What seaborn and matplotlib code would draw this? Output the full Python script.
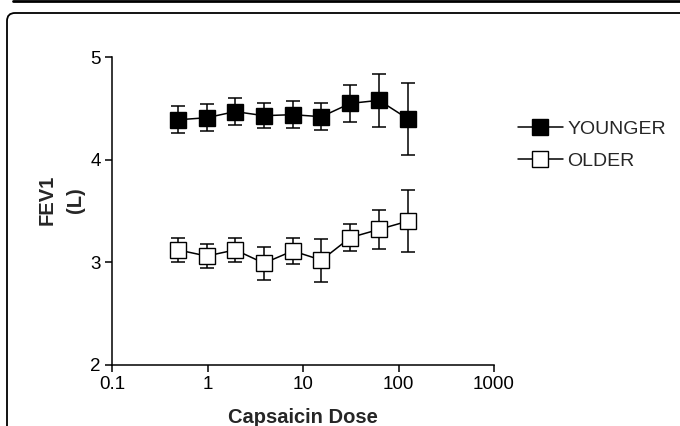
import numpy as np
import pandas as pd
import matplotlib
matplotlib.use("Agg")
import matplotlib.pyplot as plt
import matplotlib.patches as mpatches
from matplotlib.lines import Line2D
import seaborn as sns

# ==========================
# DATA
# ==========================

doses = [0.49, 0.98, 1.95, 3.9, 7.8, 15.6, 31.25, 62.5, 125]

younger_mean = [4.39, 4.41, 4.47, 4.43, 4.44, 4.42, 4.55, 4.58, 4.40]
younger_err = [0.13, 0.13, 0.13, 0.12, 0.13, 0.13, 0.18, 0.26, 0.35]

older_mean = [3.12, 3.06, 3.12, 2.99, 3.11, 3.02, 3.24, 3.32, 3.40]
older_err = [0.12, 0.12, 0.12, 0.16, 0.13, 0.21, 0.13, 0.19, 0.30]

groups = ["YOUNGER", "OLDER"]

df = pd.DataFrame({
    "dose": doses * 2,
    "fev1": younger_mean + older_mean,
    "err": younger_err + older_err,
    "group": ["YOUNGER"] * len(doses) + ["OLDER"] * len(doses),
})

# ==========================
# PLOT
# ==========================

sns.set_style("ticks")
plt.rcParams["font.family"] = ["Liberation Sans", "DejaVu Sans"]

fig = plt.figure(figsize=(6.8, 4.26), dpi=100)
ax = fig.add_axes([0.1647, 0.1441, 0.5618, 0.7214])

face = {"YOUNGER": "black", "OLDER": "white"}

for g in groups:
    sub = df[df["group"] == g]
    ax.errorbar(sub["dose"], sub["fev1"], yerr=sub["err"], fmt="none",
                ecolor="black", elinewidth=1.1, capsize=5, capthick=1.1, zorder=2)
    sns.lineplot(data=sub, x="dose", y="fev1", ax=ax, color="black",
                 linewidth=1.1, marker="s", markersize=11,
                 markerfacecolor=face[g], markeredgecolor="black",
                 markeredgewidth=1.0, zorder=3, legend=False)

ax.set_xscale("log")
ax.set_xlim(0.1, 1000)
ax.set_ylim(2, 5)
ax.set_xticks([0.1, 1, 10, 100, 1000])
ax.set_xticklabels(["0.1", "1", "10", "100", "1000"])
ax.xaxis.set_minor_locator(matplotlib.ticker.NullLocator())
ax.set_yticks([2, 3, 4, 5])

sns.despine(ax=ax)
for s in ["left", "bottom"]:
    ax.spines[s].set_linewidth(1.1)
    ax.spines[s].set_color("black")
ax.tick_params(axis="both", labelsize=13.5, colors="black", width=1.1, length=5, pad=3)

ax.set_xlabel("Capsaicin Dose", fontsize=14.5, fontweight="bold", labelpad=11)
ax.set_ylabel("FEV1\n(L)", fontsize=14.5, fontweight="bold", linespacing=1.6)
ax.yaxis.set_label_coords(-0.071, 0.535)

handles = [Line2D([], [], color="black", linewidth=1.1, marker="s", markersize=11,
                  markerfacecolor=face[g], markeredgecolor="black")
           for g in groups]
fig.legend(handles, groups, loc="upper left", bbox_to_anchor=(0.750, 0.736),
           frameon=False, fontsize=14, handlelength=2.3, handletextpad=0.25,
           labelspacing=0.75, borderaxespad=0)

# ==========================
# FRAME
# ==========================

fig.add_artist(Line2D([13 / 680, 1], [1 - 1 / 426, 1 - 1 / 426],
                      transform=fig.transFigure, color="black", linewidth=2))
box = mpatches.FancyBboxPatch((0.07, -0.5), 7.5, 4.63,
                              boxstyle="round,pad=0,rounding_size=0.08",
                              transform=fig.dpi_scale_trans, fill=False,
                              edgecolor="black", linewidth=1.3)
fig.add_artist(box)

fig.savefig("out.png", dpi=100)
plt.close()
